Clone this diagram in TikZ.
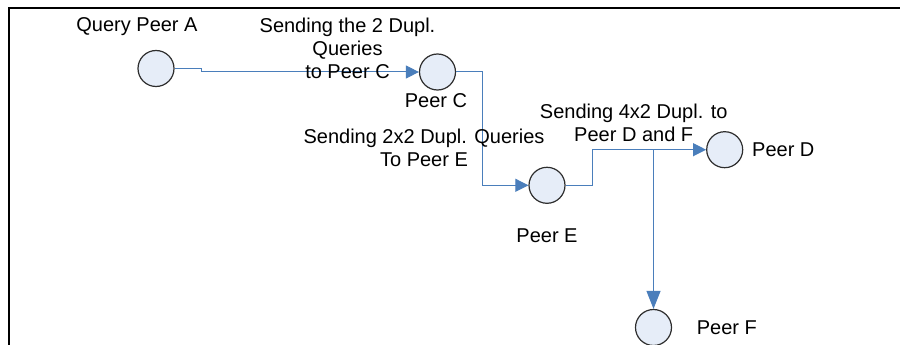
\documentclass[tikz,border=0pt]{standalone}
\usepackage{fontspec}
\setmainfont{Liberation Sans}
\usetikzlibrary{arrows.meta}
\definecolor{linkblue}{HTML}{4A7EBB}
\definecolor{peerfill}{HTML}{E6EDF8}
\definecolor{peerdraw}{HTML}{2E2E2E}
\tikzset{
  peer/.style={circle, minimum size=36pt, inner sep=0pt, fill=peerfill, draw=peerdraw, line width=1.2pt},
  conn/.style={draw=linkblue, line width=1pt, -{Triangle[length=13pt,width=13pt]}, fill=none},
  caption/.style={font=\fontsize{20}{23}\selectfont, inner sep=0pt, align=center, anchor=base, text=black},
  frameline/.style={line width=2pt, black}
}
\begin{document}
\begin{tikzpicture}[x=1pt,y=-1pt]
\useasboundingbox (0,0) rectangle (900,345);
% frame edges
\coordinate (fbl) at (9,345);
\coordinate (ftl) at (9,7.7);
\coordinate (ftr) at (900,7.7);
\draw[frameline] (fbl) -- (ftl) -- (ftr);

% peers
\node[peer] (A) at (156,68.5) {};
\node[peer] (C) at (437.5,72) {};
\node[peer] (E) at (547,185.3) {};
\node[peer] (D) at (724.7,149.7) {};
\node[peer] (F) at (653.5,327.5) {};

% query forwarding links
\draw[conn] (A.east) -- ++(27,0) |- (C.west);
\draw[conn] (C.east) -- ++(26,0) |- (E.west);
\draw[conn] (E.east) -- ++(27,0) |- (D.west);
\coordinate (split) at (F |- D);
\draw[conn, -{Triangle[length=18pt,width=14pt]}] (split) -- (F.north);

% labels (base anchor of a multi-line caption sits on its last line)
\node[caption] (lA) at (137,32) {Query Peer A};
\node[caption] (lAC) at (347.5,78.5) {Sending the 2 Dupl.\\Queries\\to Peer C};
\node[caption] (lC) at (436,107) {Peer C};
\node[caption] (lCE) at (424,166.5) {Sending 2x2 Dupl. Queries\\To Peer E};
\node[caption] (lED) at (633.7,141.5) {Sending 4x2 Dupl. to\\Peer D and F};
\node[caption, anchor=base west] (lD) at (752,156) {Peer D};
\node[caption] (lE) at (547,242.7) {Peer E};
\node[caption, anchor=base west] (lF) at (696.7,334) {Peer F};
\end{tikzpicture}
\end{document}
